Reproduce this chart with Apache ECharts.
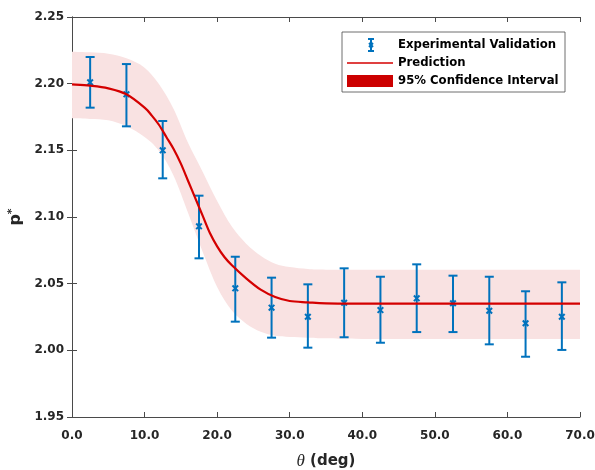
<!DOCTYPE html>
<html>
<head>
<meta charset="utf-8">
<script src="https://cdn.jsdelivr.net/npm/echarts@6/dist/echarts.min.js"></script>
<style>
html,body{margin:0;padding:0;background:#fff;}
#chart{width:595px;height:470px;}
</style>
</head>
<body>
<div id="chart"></div>
<script>
// Experimental validation points: theta (deg), mean, lower, upper
const expTheta = [2.5, 7.5, 12.5, 17.5, 22.5, 27.5, 32.5, 37.5, 42.5, 47.5, 52.5, 57.5, 62.5, 67.5];
const expMean  = [2.201, 2.192, 2.150, 2.093, 2.0465, 2.032, 2.0252, 2.0357, 2.0302, 2.039, 2.0353, 2.0297, 2.0203, 2.0252];
const expLow   = [2.182, 2.168, 2.129, 2.069, 2.0215, 2.0095, 2.002, 2.0098, 2.0057, 2.0137, 2.0137, 2.0045, 1.9952, 2.0003];
const expHigh  = [2.220, 2.2147, 2.172, 2.116, 2.0702, 2.0545, 2.0495, 2.0615, 2.0552, 2.0645, 2.056, 2.0552, 2.0443, 2.051];

// Prediction curve
const predTheta = [0, 2.5, 5, 7.5, 10, 11, 12, 13, 14, 15, 16, 17, 18, 19, 20, 21, 22, 24, 26, 28, 30, 32.5, 35, 40, 50, 60, 70];
const predValue = [2.1995, 2.1985, 2.1965, 2.192, 2.182, 2.176, 2.169, 2.160, 2.151, 2.140, 2.127, 2.114, 2.101, 2.088, 2.078, 2.070, 2.064, 2.054, 2.0455, 2.040, 2.037, 2.036, 2.0352, 2.035, 2.035, 2.035, 2.035];

// 95% confidence band edges
const bandTheta = [0, 2.5, 5, 7.5, 10, 12, 14, 16, 18, 20, 22, 24, 26, 28, 30, 32.5, 35, 40, 50, 60, 70];
const bandUpper = [2.224, 2.2235, 2.2225, 2.219, 2.212, 2.1995, 2.181, 2.1555, 2.134, 2.112, 2.093, 2.080, 2.071, 2.065, 2.0625, 2.061, 2.0605, 2.0605, 2.0605, 2.0605, 2.0605];
const bandLower = [2.174, 2.1735, 2.1725, 2.168, 2.160, 2.1495, 2.131, 2.103, 2.074, 2.0475, 2.030, 2.020, 2.014, 2.011, 2.010, 2.0095, 2.009, 2.0085, 2.0085, 2.0085, 2.0085];

const xTicks = {min: 0, max: 70, interval: 10};
const yTicks = {min: 1.95, max: 2.25, interval: 0.05};

const FONT = 'DejaVu Sans';
const AXIS_COLOR = '#4a4a4a';
const TEXT_COLOR = '#262626';
const BLUE = '#0072BD';
const RED = '#D40000';

const chart = echarts.init(document.getElementById('chart'), null, {renderer: 'canvas'});

const errData = expTheta.map((t, i) => [t, expMean[i], expLow[i], expHigh[i]]);
const predData = predTheta.map((t, i) => [t, predValue[i]]);
const bandData = bandTheta.map((t, i) => [t, bandLower[i], bandUpper[i]]);

// Catmull-Rom spline through pixel points -> SVG path segment commands
function splineCmds(pts, moveFirst) {
  let d = moveFirst ? 'M' + pts[0][0] + ',' + pts[0][1] : 'L' + pts[0][0] + ',' + pts[0][1];
  for (let i = 0; i < pts.length - 1; i++) {
    const p0 = pts[Math.max(i - 1, 0)], p1 = pts[i], p2 = pts[i + 1], p3 = pts[Math.min(i + 2, pts.length - 1)];
    const c1 = [p1[0] + (p2[0] - p0[0]) / 6, p1[1] + (p2[1] - p0[1]) / 6];
    const c2 = [p2[0] - (p3[0] - p1[0]) / 6, p2[1] - (p3[1] - p1[1]) / 6];
    d += 'C' + c1[0] + ',' + c1[1] + ',' + c2[0] + ',' + c2[1] + ',' + p2[0] + ',' + p2[1];
  }
  return d;
}

function renderBand(params, api) {
  if (params.dataIndex !== 0) return null;
  const up = bandData.map(r => api.coord([r[0], r[2]]));
  const lo = bandData.map(r => api.coord([r[0], r[1]])).reverse();
  const d = splineCmds(up, true) + splineCmds(lo, false) + 'Z';
  return {type: 'path', shape: {pathData: d}, style: {fill: '#F9E2E2', stroke: null}};
}

function renderPred(params, api) {
  if (params.dataIndex !== 0) return null;
  const pts = predData.map(r => api.coord(r));
  return {type: 'path', shape: {pathData: splineCmds(pts, true)}, style: {fill: null, stroke: RED, lineWidth: 2.2}};
}

function renderErr(params, api) {
  const x = api.value(0), y = api.value(1), lo = api.value(2), hi = api.value(3);
  const pc = api.coord([x, y]);
  const pl = api.coord([x, lo]);
  const ph = api.coord([x, hi]);
  const cw = 4.5, m = 2.8;
  const st = {stroke: BLUE, lineWidth: 2, fill: null};
  return {
    type: 'group',
    children: [
      {type: 'line', shape: {x1: pc[0], y1: ph[1], x2: pc[0], y2: pl[1]}, style: st},
      {type: 'line', shape: {x1: pc[0] - cw, y1: ph[1], x2: pc[0] + cw, y2: ph[1]}, style: st},
      {type: 'line', shape: {x1: pc[0] - cw, y1: pl[1], x2: pc[0] + cw, y2: pl[1]}, style: st},
      {type: 'line', shape: {x1: pc[0] - m, y1: pc[1] - m, x2: pc[0] + m, y2: pc[1] + m}, style: st},
      {type: 'line', shape: {x1: pc[0] - m, y1: pc[1] + m, x2: pc[0] + m, y2: pc[1] - m}, style: st}
    ]
  };
}

const axisLineStyle = {show: true, lineStyle: {color: AXIS_COLOR, width: 1}};
const tickStyle = {show: true, inside: true, length: 5, lineStyle: {color: AXIS_COLOR, width: 1}};
const labelStyle = {color: TEXT_COLOR, fontFamily: FONT, fontWeight: 'bold', fontSize: 12};

// legend drawn as graphic elements
const lx = 342, ly = 32, lw = 223, lh = 60;
const legendText = ['Experimental Validation', 'Prediction', '95% Confidence Interval'];
const legendY = [45, 63, 81];
const legendStroke = {stroke: BLUE, lineWidth: 2};

const option = {
  animation: false,
  backgroundColor: '#ffffff',
  grid: {left: 72, right: 15, top: 17, bottom: 53, containLabel: false, outerBoundsMode: 'none'},
  xAxis: [
    {
      type: 'value', position: 'bottom',
      min: xTicks.min, max: xTicks.max, interval: xTicks.interval,
      axisLine: axisLineStyle, axisTick: tickStyle, splitLine: {show: false},
      axisLabel: Object.assign({margin: 13, formatter: v => v.toFixed(1)}, labelStyle),
      name: '{i|θ}{b| (deg)}', nameLocation: 'middle', nameGap: 36,
      nameTextStyle: {
        rich: {
          i: {fontFamily: 'Liberation Serif', fontStyle: 'italic', fontSize: 17, color: TEXT_COLOR},
          b: {fontFamily: FONT, fontWeight: 'bold', fontSize: 15, color: TEXT_COLOR}
        }
      }
    },
    {
      type: 'value', position: 'top',
      min: xTicks.min, max: xTicks.max, interval: xTicks.interval,
      axisLine: axisLineStyle, axisTick: tickStyle, splitLine: {show: false},
      axisLabel: {show: false}
    }
  ],
  yAxis: [
    {
      type: 'value', position: 'left',
      min: yTicks.min, max: yTicks.max, interval: yTicks.interval,
      axisLine: axisLineStyle, axisTick: tickStyle, splitLine: {show: false},
      axisLabel: Object.assign({margin: 8, formatter: v => v.toFixed(2)}, labelStyle),
      name: '{b|p}{s|*}', nameLocation: 'middle', nameGap: 45,
      nameTextStyle: {
        rich: {
          b: {fontFamily: FONT, fontWeight: 'bold', fontSize: 16, color: TEXT_COLOR, lineHeight: 18},
          s: {fontFamily: FONT, fontWeight: 'bold', fontSize: 11, color: TEXT_COLOR, verticalAlign: 'top', lineHeight: 18, padding: [0, 0, 6, 0]}
        }
      }
    },
    {
      type: 'value', position: 'right',
      min: yTicks.min, max: yTicks.max, interval: yTicks.interval,
      axisLine: axisLineStyle, axisTick: tickStyle, splitLine: {show: false},
      axisLabel: {show: false}
    }
  ],
  series: [
    {
      name: '95% Confidence Interval', type: 'custom', data: bandData,
      renderItem: renderBand, encode: {x: 0, y: [1, 2]}, silent: true, z: 1
    },
    {
      name: 'Experimental Validation', type: 'custom', data: errData,
      renderItem: renderErr, encode: {x: 0, y: [1, 2, 3]}, z: 3
    },
    {
      name: 'Prediction', type: 'custom', data: predData,
      renderItem: renderPred, encode: {x: 0, y: 1}, silent: true, z: 4
    }
  ],
  graphic: [
    {type: 'rect', shape: {x: lx, y: ly, width: lw, height: lh}, style: {fill: '#fff', stroke: '#4a4a4a', lineWidth: 0.8}, z: 10},
    {type: 'line', shape: {x1: 371, y1: 39, x2: 371, y2: 51}, style: legendStroke, z: 11},
    {type: 'line', shape: {x1: 368, y1: 39, x2: 374, y2: 39}, style: legendStroke, z: 11},
    {type: 'line', shape: {x1: 368, y1: 51, x2: 374, y2: 51}, style: legendStroke, z: 11},
    {type: 'line', shape: {x1: 369, y1: 43, x2: 373, y2: 47}, style: legendStroke, z: 11},
    {type: 'line', shape: {x1: 369, y1: 47, x2: 373, y2: 43}, style: legendStroke, z: 11},
    {type: 'line', shape: {x1: 347, y1: 63, x2: 393, y2: 63}, style: {stroke: RED, lineWidth: 1.5}, z: 11},
    {type: 'rect', shape: {x: 347, y: 75, width: 46, height: 12}, style: {fill: '#CC0000'}, z: 11},
    ...legendText.map((t, i) => ({
      type: 'text', x: 398, y: legendY[i], z: 11,
      style: {text: t, fill: '#000', font: 'bold 11.7px "DejaVu Sans"', textVerticalAlign: 'middle', verticalAlign: 'middle'}
    }))
  ]
};

chart.setOption(option);
</script>
</body>
</html>
